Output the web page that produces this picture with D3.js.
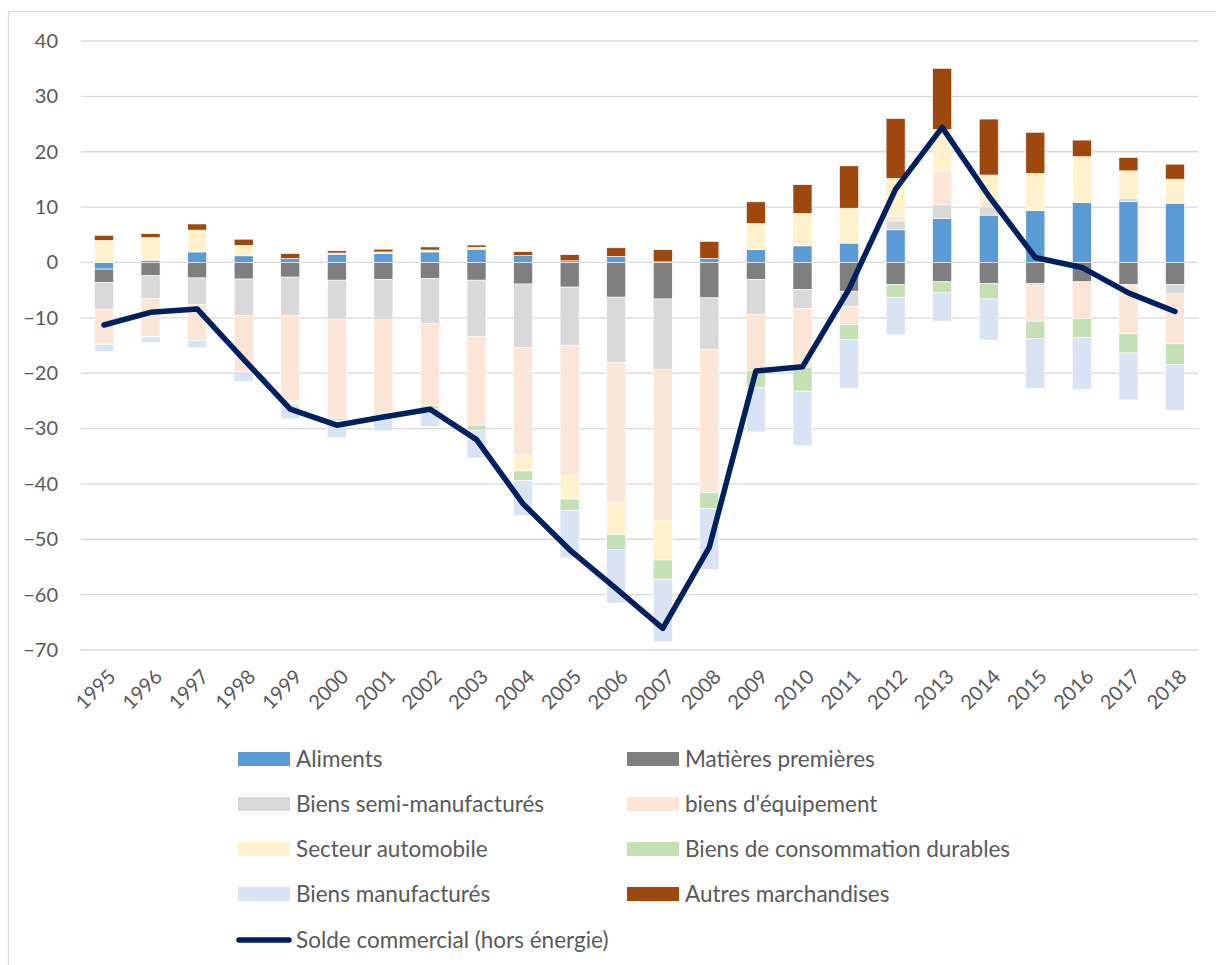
<!DOCTYPE html>
<html>
<head>
<meta charset="utf-8">
<script src="https://cdn.jsdelivr.net/npm/d3@7"></script>
<style>
  body { margin: 0; background: #fff; }
  svg { display: block; font-family: Lato, "Liberation Sans", sans-serif; }
</style>
</head>
<body>
<div id="chart"></div>
<script>
// years on the x axis
var years = ["1995","1996","1997","1998","1999","2000","2001","2002","2003","2004","2005","2006",
             "2007","2008","2009","2010","2011","2012","2013","2014","2015","2016","2017","2018"];

// contributions by product group
var aliments      = [-1.2, 0.4, 1.9, 1.2, 0.7, 1.5, 1.6, 1.9, 2.4, 1.3, 0.3, 1.1, 0.1, 0.7, 2.3, 3.0, 3.5, 5.9, 7.95, 8.55, 9.35, 10.85, 11.0, 10.7];
var matieres      = [-2.4, -2.4, -2.8, -3.0, -2.65, -3.2, -3.1, -2.9, -3.2, -3.9, -4.45, -6.27, -6.6, -6.4, -3.1, -4.9, -5.2, -4.0, -3.5, -3.8, -3.8, -3.5, -4.0, -4.0];
var semiManuf     = [-4.9, -4.15, -4.8, -6.6, -6.9, -7.05, -7.3, -8.1, -10.2, -11.5, -10.5, -11.8, -12.7, -9.3, -6.3, -3.4, -2.8, 1.6, 2.45, 1.5, -0.4, 0, 0.55, -1.7];
var equipement    = [-6.1, -6.8, -6.5, -10.1, -15.4, -17.95, -16.8, -14.9, -16.0, -19.4, -23.5, -25.2, -27.4, -25.9, -10.1, -10.6, -3.2, 0.8, 6.15, 0.95, -6.4, -6.6, -8.85, -9.0];
var automobile    = [4.0, 4.1, 3.7, 1.9, -0.6, 0.2, 0.3, 0.35, 0.35, -2.85, -4.3, -5.9, -7.05, 0, 4.75, 5.85, 6.3, 6.9, 7.5, 4.8, 6.75, 8.25, 5.0, 4.35];
var durables      = [-0.25, -0.1, 0.25, 0, -0.2, -0.4, -0.3, -0.5, -0.9, -1.7, -2.0, -2.65, -3.45, -2.85, -3.1, -4.35, -2.75, -2.3, -2.0, -2.8, -3.1, -3.45, -3.5, -3.7];
var manufactures  = [-1.25, -1.0, -1.25, -1.75, -2.5, -3.0, -2.9, -3.2, -5.0, -6.4, -8.6, -9.7, -11.3, -11.0, -8.0, -9.8, -8.75, -6.75, -5.1, -7.4, -9.05, -9.4, -8.5, -8.3];
var autres        = [0.9, 0.7, 1.1, 1.1, 0.9, 0.4, 0.5, 0.55, 0.4, 0.65, 1.1, 1.55, 2.2, 3.1, 3.9, 5.2, 7.65, 10.8, 11.0, 10.1, 7.4, 3.0, 2.4, 2.7];

// trade balance excluding energy
var solde = [-11.3, -9.0, -8.4, -17.5, -26.5, -29.4, -27.9, -26.5, -32.0, -43.6, -51.9, -58.9, -66.1, -51.4, -19.6, -18.85, -4.8, 13.25, 24.4, 12.0, 0.9, -0.9, -5.5, -8.85];

var yTicks = [40, 30, 20, 10, 0, -10, -20, -30, -40, -50, -60, -70];

var seriesNames = ["Aliments", "Matières premières", "Biens semi-manufacturés", "biens d'équipement",
                   "Secteur automobile", "Biens de consommation durables", "Biens manufacturés", "Autres marchandises"];
var seriesValues = [aliments, matieres, semiManuf, equipement, automobile, durables, manufactures, autres];
var seriesColors = ["#5B9BD5", "#7F7F7F", "#D9D9D9", "#FBE5D6", "#FFF2CC", "#C5E0B4", "#DAE3F3", "#9E480E"];
var lineName = "Solde commercial (hors énergie)";
var lineColor = "#002060";

var width = 1216, height = 965;

var svg = d3.select("#chart").append("svg")
    .attr("width", width)
    .attr("height", height);

// chart frame
svg.append("rect")
    .attr("x", 8.5).attr("y", 11.5)
    .attr("width", 1230).attr("height", 980)
    .attr("fill", "none")
    .attr("stroke", "#d9d9d9")
    .attr("stroke-width", 1.2);

var x = d3.scaleBand()
    .domain(years)
    .range([80.7, 1198.3])
    .paddingInner(0.592)
    .paddingOuter(0.296);

var y = d3.scaleLinear()
    .domain([-70, 40])
    .range([650, 41]);

// gridlines
svg.append("g")
    .attr("class", "grid")
    .selectAll("line")
    .data(yTicks)
    .enter().append("line")
    .attr("x1", 80.7).attr("x2", 1198.3)
    .attr("y1", function (d) { return y(d); })
    .attr("y2", function (d) { return y(d); })
    .attr("stroke", "#d9d9d9")
    .attr("stroke-width", 1.3);

// y axis labels
var yAxis = d3.axisLeft(y).tickValues(yTicks).tickSize(0).tickPadding(0);
var gy = svg.append("g")
    .attr("transform", "translate(58,0)")
    .call(yAxis);
gy.select(".domain").remove();
gy.selectAll("text")
    .attr("fill", "#595959")
    .style("font-size", "20px")
    .style("font-family", "Lato, sans-serif");

// stacked bars
var rows = years.map(function (yr, i) {
    var r = { year: yr };
    seriesNames.forEach(function (n, k) { r[n] = seriesValues[k][i]; });
    return r;
});

var stack = d3.stack()
    .keys(seriesNames)
    .offset(d3.stackOffsetDiverging);

var layers = stack(rows);

svg.append("g")
    .attr("class", "bars")
    .selectAll("g")
    .data(layers)
    .enter().append("g")
    .attr("fill", function (d, i) { return seriesColors[i]; })
    .selectAll("rect")
    .data(function (d) { return d; })
    .enter().append("rect")
    .attr("x", function (d) { return x(d.data.year); })
    .attr("width", x.bandwidth())
    .attr("y", function (d) { return y(Math.max(d[0], d[1])); })
    .attr("height", function (d) { return Math.abs(y(d[0]) - y(d[1])); })
    .attr("stroke", "#fff")
    .attr("stroke-width", 0.6);

// balance line
var line = d3.line()
    .x(function (d, i) { return x(years[i]) + x.bandwidth() / 2; })
    .y(function (d) { return y(d); });

svg.append("path")
    .datum(solde)
    .attr("d", line)
    .attr("fill", "none")
    .attr("stroke", lineColor)
    .attr("stroke-width", 5.5)
    .attr("stroke-linejoin", "round")
    .attr("stroke-linecap", "round");

// x axis labels, rotated
var xAxis = d3.axisBottom(x).tickSize(0).tickPadding(0);
var gx = svg.append("g")
    .attr("transform", "translate(0,673)")
    .call(xAxis);
gx.select(".domain").remove();
gx.selectAll("text")
    .attr("fill", "#595959")
    .style("font-size", "20px")
    .style("font-family", "Lato, sans-serif")
    .attr("text-anchor", "end")
    .attr("dy", "0.35em")
    .attr("y", 0)
    .attr("transform", "translate(8,0) rotate(-45)");

// legend
var legendItems = seriesNames.map(function (n, i) { return { name: n, color: seriesColors[i], type: "bar" }; });
legendItems.push({ name: lineName, color: lineColor, type: "line" });

var legendCols = [238, 627];
var legendRows = [759, 804, 849, 894, 940];

var legend = svg.append("g").attr("class", "legend")
    .selectAll("g")
    .data(legendItems)
    .enter().append("g")
    .attr("transform", function (d, i) {
        return "translate(" + legendCols[i % 2] + "," + legendRows[Math.floor(i / 2)] + ")";
    });

legend.filter(function (d) { return d.type == "bar"; })
    .append("rect")
    .attr("x", 0).attr("y", -7)
    .attr("width", 52).attr("height", 14)
    .attr("fill", function (d) { return d.color; });

legend.filter(function (d) { return d.type == "line"; })
    .append("line")
    .attr("x1", 1).attr("x2", 51)
    .attr("y1", 0).attr("y2", 0)
    .attr("stroke", function (d) { return d.color; })
    .attr("stroke-width", 5.5)
    .attr("stroke-linecap", "round");

legend.append("text")
    .attr("x", 58)
    .attr("y", 0)
    .attr("dy", "0.35em")
    .attr("fill", "#595959")
    .style("font-size", "22.5px")
    .text(function (d) { return d.name; });
</script>
</body>
</html>
